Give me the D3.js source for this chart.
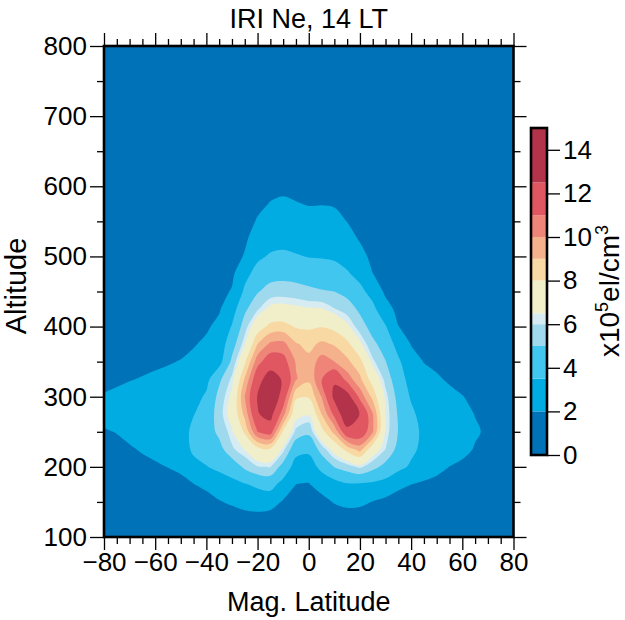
<!DOCTYPE html>
<html>
<head>
<meta charset="utf-8">
<script src="https://cdn.jsdelivr.net/npm/d3@7"></script>
<style>
  body { margin: 0; background: #fff; }
  text { font-family: "Liberation Sans", Arial, Helvetica, sans-serif; fill: #000; }
</style>
</head>
<body>
<svg id="chart" width="625" height="620"></svg>
<script>
// Grid coordinates: magnetic latitude (deg) and altitude (km)
const latitudes = [-80, -75, -70, -65, -60, -55, -50, -45, -40, -35, -30, -25, -20, -15, -10, -5,
                   0, 5, 10, 15, 20, 25, 30, 35, 40, 45, 50, 55, 60, 65, 70, 75, 80];
const altitudes = [100, 125, 150, 175, 200, 225, 250, 275, 300, 325, 350, 375, 400, 425, 450,
                   475, 500, 525, 550, 575, 600, 625, 650, 675, 700, 725, 750, 775, 800];

// Electron density (x10^5 el/cm^3); one profile per latitude, ordered by altitude
const neByLatitude = [
  [0.1,0.4,0.8,1.2,1.5,1.75,1.92,2.25,2.05,1.82,1.6,1.42,1.27,1.13,1.0,0.9,0.8,0.72,0.65,0.58,0.52,0.47,0.43,0.39,0.36,0.33,0.3,0.28,0.26],
  [0.1,0.45,0.85,1.25,1.55,1.8,2.03,2.3,2.15,1.88,1.65,1.46,1.3,1.16,1.03,0.92,0.82,0.74,0.66,0.59,0.53,0.48,0.44,0.4,0.36,0.33,0.31,0.28,0.26],
  [0.1,0.5,0.9,1.35,1.65,1.92,2.2,2.4,2.3,1.96,1.7,1.5,1.33,1.18,1.05,0.94,0.84,0.75,0.67,0.6,0.54,0.49,0.45,0.41,0.37,0.34,0.31,0.29,0.27],
  [0.1,0.55,1.0,1.45,1.8,2.07,2.3,2.45,2.35,2.05,1.78,1.56,1.37,1.21,1.08,0.96,0.86,0.77,0.69,0.62,0.55,0.5,0.46,0.42,0.38,0.35,0.32,0.29,0.27],
  [0.1,0.6,1.1,1.55,1.9,2.2,2.4,2.5,2.4,2.15,1.85,1.6,1.4,1.24,1.1,0.98,0.88,0.78,0.7,0.62,0.56,0.5,0.46,0.42,0.38,0.35,0.32,0.29,0.27],
  [0.1,0.65,1.2,1.65,2.02,2.3,2.5,2.6,2.5,2.25,1.93,1.66,1.45,1.27,1.12,1.0,0.9,0.8,0.72,0.64,0.57,0.51,0.47,0.43,0.39,0.35,0.32,0.3,0.28],
  [0.1,0.7,1.3,1.8,2.15,2.5,2.75,2.85,2.7,2.4,2.04,1.75,1.52,1.33,1.17,1.04,0.93,0.83,0.74,0.66,0.59,0.53,0.48,0.44,0.4,0.36,0.33,0.3,0.28],
  [0.1,0.8,1.45,1.97,2.9,3.85,3.9,3.45,3.0,2.6,2.25,1.92,1.65,1.44,1.26,1.11,0.98,0.87,0.78,0.7,0.62,0.56,0.5,0.45,0.41,0.37,0.34,0.31,0.29],
  [0.1,0.9,1.5,2.3,3.45,4.0,4.3,4.1,3.7,3.1,2.65,2.2,1.85,1.6,1.4,1.22,1.08,0.96,0.85,0.76,0.68,0.61,0.55,0.49,0.44,0.4,0.36,0.33,0.3],
  [0.1,1.0,1.9,2.8,3.8,4.55,5.3,5.6,5.4,4.75,3.0,2.65,2.3,1.88,1.62,1.4,1.22,1.07,0.95,0.84,0.75,0.67,0.6,0.54,0.48,0.43,0.39,0.35,0.32],
  [0.1,1.3,2.2,3.1,4.2,5.85,6.35,7.0,6.75,6.2,5.3,4.4,3.6,2.85,2.1,1.75,1.5,1.3,1.14,1.0,0.88,0.78,0.69,0.61,0.54,0.48,0.43,0.39,0.35],
  [0.1,1.5,2.45,3.4,5.25,6.55,8.2,9.3,10.0,9.1,7.8,6.45,5.6,4.75,3.75,3.1,2.1,1.8,1.55,1.35,1.17,1.02,0.9,0.79,0.7,0.62,0.55,0.49,0.44],
  [0.1,1.5,2.65,3.75,5.95,7.6,11.0,12.4,12.6,12.0,10.6,9.0,7.4,5.9,4.9,4.0,3.25,2.6,2.1,1.75,1.5,1.3,1.13,0.98,0.85,0.75,0.66,0.58,0.51],
  [0.1,1.3,2.6,4.0,6.05,7.8,11.6,13.0,14.0,13.2,11.8,10.2,8.3,6.8,5.5,4.5,3.65,3.0,2.45,2.05,1.7,1.45,1.25,1.08,0.94,0.82,0.72,0.63,0.56],
  [0.1,1.0,1.85,3.0,4.5,6.3,7.8,10.4,11.8,12.35,11.5,10.3,8.4,6.9,5.6,4.6,3.75,3.1,2.55,2.15,1.8,1.52,1.3,1.12,0.97,0.85,0.74,0.65,0.57],
  [0.1,0.7,1.3,2.0,2.9,4.0,5.8,6.9,8.2,10.1,9.9,9.1,7.9,6.75,5.5,4.5,3.6,3.0,2.45,2.05,1.72,1.46,1.25,1.08,0.94,0.82,0.72,0.63,0.56],
  [0.1,0.65,1.25,1.93,2.8,3.8,5.3,6.6,8.1,9.2,9.3,8.7,7.85,6.6,5.3,4.3,3.45,2.9,2.35,1.95,1.65,1.4,1.2,1.04,0.9,0.79,0.69,0.61,0.54],
  [0.1,0.8,1.55,2.55,3.9,5.5,7.6,9.0,10.0,10.95,10.5,9.2,7.95,6.6,5.1,4.2,3.4,2.85,2.35,1.97,1.67,1.42,1.22,1.05,0.91,0.8,0.7,0.62,0.55],
  [0.1,1.1,2.1,2.9,5.05,7.0,9.3,11.3,12.9,12.3,10.0,8.9,7.7,6.05,5.0,4.05,3.3,2.75,2.3,1.92,1.63,1.38,1.19,1.03,0.9,0.79,0.69,0.61,0.54],
  [0.1,1.3,2.35,3.35,5.6,8.4,12.0,13.8,13.2,10.6,9.2,8.35,6.75,5.6,4.6,3.65,3.0,2.45,1.98,1.7,1.45,1.25,1.08,0.94,0.82,0.72,0.63,0.56,0.5],
  [0.1,1.25,2.3,3.3,6.2,9.4,12.0,12.45,10.7,9.2,8.4,6.75,5.55,4.75,3.85,3.1,2.4,1.9,1.6,1.38,1.2,1.05,0.92,0.81,0.72,0.64,0.57,0.51,0.46],
  [0.1,1.05,1.95,3.2,5.4,7.2,10.1,10.1,8.7,7.5,6.2,5.3,4.5,3.85,3.0,2.02,1.7,1.48,1.3,1.15,1.02,0.91,0.82,0.73,0.65,0.58,0.52,0.47,0.42],
  [0.1,0.85,1.65,2.95,4.6,6.0,6.4,6.5,6.3,5.7,5.05,4.4,3.6,2.5,1.75,1.6,1.4,1.23,1.09,0.97,0.87,0.78,0.7,0.63,0.56,0.5,0.45,0.41,0.37],
  [0.1,0.75,1.45,2.3,3.9,4.6,4.95,4.85,4.6,4.2,3.75,2.95,2.02,1.65,1.42,1.25,1.1,0.98,0.88,0.79,0.71,0.64,0.58,0.52,0.47,0.42,0.38,0.35,0.32],
  [0.1,0.7,1.35,2.0,3.3,3.8,4.0,3.8,3.35,2.95,2.45,1.95,1.62,1.42,1.25,1.1,0.98,0.88,0.79,0.71,0.64,0.58,0.52,0.47,0.42,0.38,0.35,0.32,0.29],
  [0.1,0.65,1.25,1.85,2.55,3.15,3.2,2.95,2.65,2.35,1.97,1.7,1.5,1.33,1.18,1.05,0.94,0.84,0.76,0.68,0.61,0.55,0.5,0.45,0.41,0.37,0.34,0.31,0.28],
  [0.1,0.6,1.15,1.7,2.3,2.75,2.85,2.65,2.4,2.1,1.83,1.6,1.42,1.27,1.13,1.01,0.9,0.81,0.73,0.66,0.59,0.53,0.48,0.44,0.4,0.36,0.33,0.3,0.28],
  [0.1,0.55,1.05,1.55,1.99,2.45,2.55,2.4,2.2,1.9,1.7,1.52,1.36,1.22,1.09,0.97,0.87,0.78,0.7,0.63,0.57,0.52,0.47,0.43,0.39,0.35,0.32,0.3,0.27],
  [0.1,0.5,0.95,1.42,1.85,2.2,2.3,2.2,2.02,1.8,1.62,1.46,1.31,1.18,1.06,0.95,0.85,0.76,0.69,0.62,0.56,0.51,0.46,0.42,0.38,0.35,0.32,0.29,0.27],
  [0.1,0.45,0.88,1.32,1.72,1.95,2.08,1.98,1.86,1.7,1.55,1.4,1.27,1.15,1.03,0.93,0.83,0.75,0.68,0.61,0.55,0.5,0.45,0.41,0.38,0.34,0.31,0.29,0.26],
  [0.1,0.42,0.82,1.23,1.6,1.82,1.9,1.85,1.75,1.62,1.48,1.35,1.22,1.1,0.99,0.89,0.8,0.72,0.65,0.59,0.53,0.48,0.44,0.4,0.36,0.33,0.3,0.28,0.25],
  [0.1,0.4,0.78,1.15,1.48,1.68,1.75,1.72,1.64,1.53,1.41,1.29,1.17,1.06,0.96,0.86,0.78,0.7,0.63,0.57,0.52,0.47,0.43,0.39,0.35,0.32,0.29,0.27,0.25],
  [0.1,0.38,0.74,1.08,1.38,1.57,1.65,1.63,1.56,1.46,1.35,1.24,1.13,1.03,0.93,0.84,0.76,0.68,0.61,0.55,0.5,0.46,0.42,0.38,0.35,0.32,0.29,0.27,0.25]
];

// Contour levels and the colour of each band (first colour = below the first level)
const levels = [2, 3.5, 5, 6, 6.5, 8, 9, 10, 11, 12.5];
const bandColors = ["#0072b8", "#00ace2", "#41c6ef", "#9fd9ee", "#d7ebf2", "#f1efc9",
                    "#f8d8a3", "#f5b18b", "#ef8478", "#e05761", "#b3344a"];
const colorbarMax = 15;

// Axis ticks
const latTicks = [-80, -60, -40, -20, 0, 20, 40, 60, 80];
const altTicks = [100, 200, 300, 400, 500, 600, 700, 800];
const colorbarTicks = [0, 2, 4, 6, 8, 10, 12, 14];

const svg = d3.select("#chart");
const plot = { left: 104, right: 513.5, top: 46, bottom: 537 };
const x = d3.scaleLinear().domain([-80, 80]).range([plot.left, plot.right]);
const y = d3.scaleLinear().domain([100, 800]).range([plot.bottom, plot.top]);
const FS = 26;      // tick labels
const FT = 27;      // titles

// Row-major grid for d3.contours (x = latitude index, y = altitude index)
const nx = latitudes.length, ny = altitudes.length;
const grid = new Array(nx * ny);
for (let i = 0; i < nx; i++) for (let j = 0; j < ny; j++) grid[j * nx + i] = neByLatitude[i][j];

const bands = d3.contours().size([nx, ny]).thresholds(levels)(grid);
const latStep = latitudes[1] - latitudes[0];
const altStep = altitudes[1] - altitudes[0];

// Grid units -> screen, then each ring drawn as a smooth closed curve
const toScreen = ([gx, gy]) => [x(latitudes[0] + (gx - 0.5) * latStep), y(altitudes[0] + (gy - 0.5) * altStep)];
const ringLine = d3.line().curve(d3.curveCatmullRomClosed.alpha(0.5));
const bandPath = mp => mp.coordinates
  .map(poly => poly.map(ring => ringLine(ring.slice(0, -1).map(toScreen))).join(""))
  .join("");

svg.append("clipPath").attr("id", "plotClip")
  .append("rect").attr("x", plot.left).attr("y", plot.top)
  .attr("width", plot.right - plot.left).attr("height", plot.bottom - plot.top);

const field = svg.append("g").attr("clip-path", "url(#plotClip)");
field.append("rect").attr("x", plot.left).attr("y", plot.top)
  .attr("width", plot.right - plot.left).attr("height", plot.bottom - plot.top)
  .attr("fill", bandColors[0]);
field.selectAll("path.band").data(bands).join("path")
  .attr("class", "band")
  .attr("d", bandPath)
  .attr("fill-rule", "evenodd")
  .attr("fill", (d, k) => bandColors[k + 1]);

// Axes: major ticks with labels, minor ticks without
const fmt = d3.format("d");
const latMinor = d3.range(-80, 81, 5).filter(v => !latTicks.includes(v));
const altMinor = d3.range(150, 800, 100);

function styleAxis(g) {
  g.select(".domain").remove();
  g.selectAll("line").attr("stroke", "#000").attr("stroke-width", 1.3);
  g.selectAll("text").attr("font-size", FS).attr("fill", "#000");
}

svg.append("g").attr("transform", `translate(0,${plot.bottom})`)
  .call(d3.axisBottom(x).tickValues(latTicks).tickSize(13).tickPadding(3).tickFormat(fmt)).call(styleAxis);
svg.append("g").attr("transform", `translate(0,${plot.bottom})`)
  .call(d3.axisBottom(x).tickValues(latMinor).tickSize(7).tickFormat("")).call(styleAxis);
svg.append("g").attr("transform", `translate(0,${plot.top})`)
  .call(d3.axisTop(x).tickValues(latTicks).tickSize(13).tickFormat("")).call(styleAxis);
svg.append("g").attr("transform", `translate(0,${plot.top})`)
  .call(d3.axisTop(x).tickValues(latMinor).tickSize(7).tickFormat("")).call(styleAxis);

svg.append("g").attr("transform", `translate(${plot.left},0)`)
  .call(d3.axisLeft(y).tickValues(altTicks).tickSize(14).tickPadding(3).tickFormat(fmt)).call(styleAxis);
svg.append("g").attr("transform", `translate(${plot.left},0)`)
  .call(d3.axisLeft(y).tickValues(altMinor).tickSize(7).tickFormat("")).call(styleAxis);
svg.append("g").attr("transform", `translate(${plot.right},0)`)
  .call(d3.axisRight(y).tickValues(altTicks).tickSize(13).tickFormat("")).call(styleAxis);
svg.append("g").attr("transform", `translate(${plot.right},0)`)
  .call(d3.axisRight(y).tickValues(altMinor).tickSize(7).tickFormat("")).call(styleAxis);

// Plot frame
svg.append("rect").attr("x", plot.left).attr("y", plot.top)
  .attr("width", plot.right - plot.left).attr("height", plot.bottom - plot.top)
  .attr("fill", "none").attr("stroke", "#000").attr("stroke-width", 2.6);

// Titles
svg.append("text").attr("x", (plot.left + plot.right) / 2).attr("y", 28)
  .attr("text-anchor", "middle").attr("font-size", FT).text("IRI Ne, 14 LT");
svg.append("text").attr("x", (plot.left + plot.right) / 2).attr("y", 611)
  .attr("text-anchor", "middle").attr("font-size", FT).text("Mag. Latitude");
svg.append("text").attr("transform", "translate(26,286) rotate(-90)")
  .attr("text-anchor", "middle").attr("font-size", 29).text("Altitude");

// Colour bar
const cb = { left: 531, right: 547, top: 128, bottom: 455 };
const cy = d3.scaleLinear().domain([0, colorbarMax]).range([cb.bottom, cb.top]);
const bounds = [0, ...levels, colorbarMax];
svg.append("g").selectAll("rect").data(bandColors).join("rect")
  .attr("x", cb.left).attr("width", cb.right - cb.left)
  .attr("y", (c, k) => cy(bounds[k + 1]))
  .attr("height", (c, k) => cy(bounds[k]) - cy(bounds[k + 1]))
  .attr("fill", c => c);
svg.append("rect").attr("x", cb.left).attr("y", cb.top)
  .attr("width", cb.right - cb.left).attr("height", cb.bottom - cb.top)
  .attr("fill", "none").attr("stroke", "#000").attr("stroke-width", 2.6);
svg.append("g").attr("transform", `translate(${cb.right},0)`)
  .call(d3.axisRight(cy).tickValues(colorbarTicks).tickSize(13).tickPadding(3).tickFormat(fmt)).call(styleAxis);

const unit = svg.append("text")
  .attr("transform", `translate(619,291) rotate(-90)`)
  .attr("text-anchor", "middle").attr("font-size", 28);
unit.append("tspan").text("x10");
unit.append("tspan").attr("dy", -11).attr("font-size", 18).text("5");
unit.append("tspan").attr("dy", 11).text("el/cm");
unit.append("tspan").attr("dy", -11).attr("font-size", 18).text("3");
</script>
</body>
</html>
